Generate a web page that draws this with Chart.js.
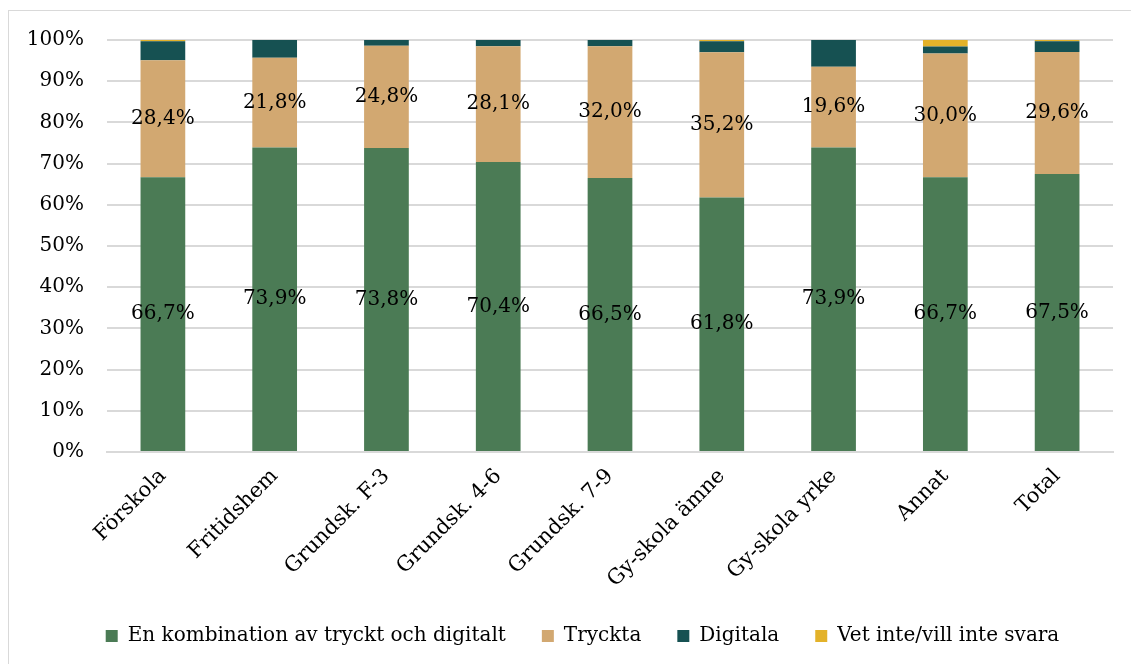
<!DOCTYPE html>
<html>
<head>
<meta charset="utf-8">
<script src="https://cdn.jsdelivr.net/npm/chart.js@4"></script>
<style>
  html, body { margin: 0; padding: 0; background: #fff; }
  #wrap { position: relative; width: 1131px; height: 664px; overflow: hidden; }
  #frame { position: absolute; left: 8px; top: 10px; width: 1140px; height: 680px; border: 1px solid #d9d9d9; box-sizing: border-box; }
  canvas { position: absolute; left: 0; top: 0; }
</style>
</head>
<body>
<div id="wrap">
  <div id="frame"></div>
  <canvas id="c" width="1131" height="664"></canvas>
</div>
<script>
const categories = ["Förskola", "Fritidshem", "Grundsk. F-3", "Grundsk. 4-6", "Grundsk. 7-9", "Gy-skola ämne", "Gy-skola yrke", "Annat", "Total"];
const kombination = [66.7, 73.9, 73.8, 70.4, 66.5, 61.8, 73.9, 66.7, 67.5];
const tryckta = [28.4, 21.8, 24.8, 28.1, 32.0, 35.2, 19.6, 30.0, 29.6];
const digitala = [4.6, 4.3, 1.4, 1.5, 1.5, 2.7, 6.5, 1.7, 2.6];
const vetInte = [0.3, 0.0, 0.0, 0.0, 0.0, 0.3, 0.0, 1.7, 0.3];
const yTicks = [0, 10, 20, 30, 40, 50, 60, 70, 80, 90, 100];

const FONT = "'DejaVu Serif', serif";

const labelPlugin = {
  id: 'segLabels',
  afterLayout(chart) {
    if (chart.legend) { chart.legend.left += 26; chart.legend.right += 26; }
  },
  afterDatasetsDraw(chart) {
    const ctx = chart.ctx;
    ctx.save();
    ctx.font = "20px " + FONT;
    ctx.fillStyle = "#000";
    ctx.textAlign = "center";
    ctx.textBaseline = "middle";
    [0, 1].forEach(di => {
      const meta = chart.getDatasetMeta(di);
      const data = chart.data.datasets[di].data;
      meta.data.forEach((bar, i) => {
        const y = (bar.y + bar.base) / 2;
        ctx.fillText(data[i].toFixed(1).replace('.', ',') + '%', bar.x, y);
      });
    });
    ctx.restore();
  }
};

new Chart(document.getElementById('c'), {
  type: 'bar',
  data: {
    labels: categories,
    datasets: [
      { label: 'En kombination av tryckt och digitalt', data: kombination, backgroundColor: '#4b7b55' },
      { label: 'Tryckta', data: tryckta, backgroundColor: '#d2a871' },
      { label: 'Digitala', data: digitala, backgroundColor: '#165152' },
      { label: 'Vet inte/vill inte svara', data: vetInte, backgroundColor: '#e3b22a' }
    ]
  },
  options: {
    responsive: false,
    animation: false,
    devicePixelRatio: 1,
    layout: { padding: { top: 40, right: 18, left: 0, bottom: 8 } },
    datasets: { bar: { categoryPercentage: 1.0, barPercentage: 0.4 } },
    scales: {
      x: {
        stacked: true,
        grid: { display: false },
        border: { display: true, color: '#d9d9d9', width: 2 },
        ticks: { font: { family: FONT, size: 21 }, color: '#000', minRotation: 45, maxRotation: 45, padding: 4 },
        afterFit(s) { s.height = 138; }
      },
      y: {
        stacked: true,
        min: 0, max: 100,
        afterBuildTicks(s) { s.ticks = yTicks.map(v => ({ value: v })); },
        grid: { color: '#d9d9d9', lineWidth: 2, drawTicks: false },
        border: { display: false },
        ticks: { font: { family: FONT, size: 20 }, color: '#000', padding: 23, callback: v => v + '%' },
        afterFit(s) { s.width = 107; }
      }
    },
    plugins: {
      legend: {
        position: 'bottom',
        labels: { font: { family: FONT, size: 20 }, color: '#000', boxWidth: 12, boxHeight: 12, padding: 36 }
      },
      tooltip: { enabled: false }
    }
  },
  plugins: [labelPlugin]
});
</script>
</body>
</html>
